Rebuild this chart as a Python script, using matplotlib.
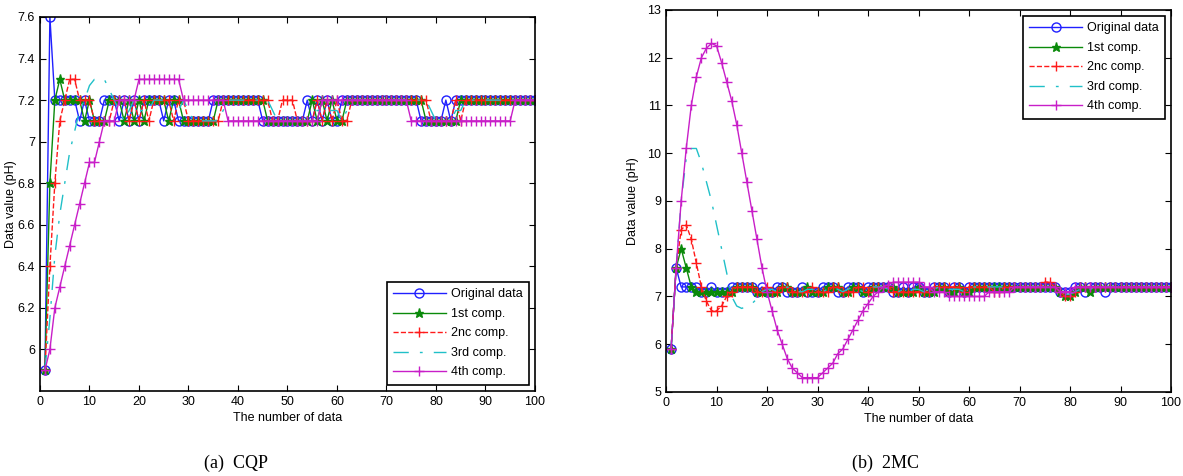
import matplotlib
matplotlib.use('Agg')
import matplotlib.pyplot as plt
import numpy as np

plt.rcParams['font.family'] = ['Liberation Sans', 'DejaVu Sans']

x = np.arange(1, 101)
labels = ['Original data', '1st comp.', '2nc comp.', '3rd comp.', '4th comp.']

# (a) CQP
orig_a = [5.9, 7.6, 7.2, 7.2, 7.2, 7.2, 7.2, 7.1, 7.2, 7.1,
          7.1, 7.1, 7.2, 7.2, 7.2, 7.1, 7.2, 7.1, 7.2, 7.1,
          7.2, 7.2, 7.2, 7.2, 7.1, 7.2, 7.2, 7.1, 7.1, 7.1,
          7.1, 7.1, 7.1, 7.1, 7.2, 7.2, 7.2, 7.2, 7.2, 7.2,
          7.2, 7.2, 7.2, 7.2, 7.1, 7.1, 7.1, 7.1, 7.1, 7.1,
          7.1, 7.1, 7.1, 7.2, 7.1, 7.2, 7.1, 7.2, 7.1, 7.1,
          7.2, 7.2, 7.2, 7.2, 7.2, 7.2, 7.2, 7.2, 7.2, 7.2,
          7.2, 7.2, 7.2, 7.2, 7.2, 7.2, 7.1, 7.1, 7.1, 7.1,
          7.1, 7.2, 7.1, 7.2, 7.2, 7.2, 7.2, 7.2, 7.2, 7.2,
          7.2, 7.2, 7.2, 7.2, 7.2, 7.2, 7.2, 7.2, 7.2, 7.2]
comp1_a = [5.9, 6.8, 7.2, 7.3, 7.2, 7.2, 7.2, 7.2, 7.1, 7.2,
           7.1, 7.1, 7.1, 7.2, 7.2, 7.2, 7.1, 7.2, 7.1, 7.2,
           7.1, 7.2, 7.2, 7.2, 7.2, 7.1, 7.2, 7.2, 7.1, 7.1,
           7.1, 7.1, 7.1, 7.1, 7.1, 7.2, 7.2, 7.2, 7.2, 7.2,
           7.2, 7.2, 7.2, 7.2, 7.2, 7.1, 7.1, 7.1, 7.1, 7.1,
           7.1, 7.1, 7.1, 7.1, 7.2, 7.1, 7.2, 7.1, 7.2, 7.1,
           7.1, 7.2, 7.2, 7.2, 7.2, 7.2, 7.2, 7.2, 7.2, 7.2,
           7.2, 7.2, 7.2, 7.2, 7.2, 7.2, 7.2, 7.1, 7.1, 7.1,
           7.1, 7.1, 7.1, 7.1, 7.2, 7.2, 7.2, 7.2, 7.2, 7.2,
           7.2, 7.2, 7.2, 7.2, 7.2, 7.2, 7.2, 7.2, 7.2, 7.2]
comp2_a = [5.9, 6.4, 6.8, 7.1, 7.2, 7.3, 7.3, 7.2, 7.2, 7.2,
           7.1, 7.1, 7.1, 7.1, 7.2, 7.2, 7.2, 7.1, 7.2, 7.1,
           7.2, 7.1, 7.2, 7.2, 7.2, 7.2, 7.1, 7.2, 7.2, 7.1,
           7.1, 7.1, 7.1, 7.1, 7.1, 7.1, 7.2, 7.2, 7.2, 7.2,
           7.2, 7.2, 7.2, 7.2, 7.2, 7.2, 7.1, 7.1, 7.2, 7.2,
           7.2, 7.1, 7.1, 7.1, 7.1, 7.2, 7.1, 7.2, 7.1, 7.2,
           7.1, 7.1, 7.2, 7.2, 7.2, 7.2, 7.2, 7.2, 7.2, 7.2,
           7.2, 7.2, 7.2, 7.2, 7.2, 7.2, 7.2, 7.2, 7.1, 7.1,
           7.1, 7.1, 7.1, 7.2, 7.1, 7.2, 7.2, 7.2, 7.2, 7.2,
           7.2, 7.2, 7.2, 7.2, 7.2, 7.2, 7.2, 7.2, 7.2, 7.2]
comp3_a = [5.9, 6.15, 6.45, 6.65, 6.8, 6.95, 7.05, 7.15, 7.2, 7.27,
           7.3, 7.3, 7.3, 7.25, 7.2, 7.15, 7.1, 7.15, 7.2, 7.15,
           7.15, 7.15, 7.2, 7.2, 7.2, 7.2, 7.15, 7.15, 7.2, 7.15,
           7.1, 7.1, 7.1, 7.1, 7.1, 7.1, 7.15, 7.2, 7.2, 7.2,
           7.2, 7.2, 7.2, 7.2, 7.2, 7.2, 7.15, 7.1, 7.1, 7.1,
           7.1, 7.1, 7.1, 7.1, 7.1, 7.15, 7.15, 7.15, 7.15, 7.15,
           7.1, 7.15, 7.2, 7.2, 7.2, 7.2, 7.2, 7.2, 7.2, 7.2,
           7.2, 7.2, 7.2, 7.2, 7.2, 7.2, 7.2, 7.2, 7.15, 7.1,
           7.1, 7.1, 7.1, 7.15, 7.15, 7.2, 7.2, 7.2, 7.2, 7.2,
           7.2, 7.2, 7.2, 7.2, 7.2, 7.2, 7.2, 7.2, 7.2, 7.2]
comp4_a = [5.9, 6.0, 6.2, 6.3, 6.4, 6.5, 6.6, 6.7, 6.8, 6.9,
           6.9, 7.0, 7.1, 7.1, 7.1, 7.2, 7.2, 7.2, 7.2, 7.3,
           7.3, 7.3, 7.3, 7.3, 7.3, 7.3, 7.3, 7.3, 7.2, 7.2,
           7.2, 7.2, 7.2, 7.2, 7.2, 7.2, 7.2, 7.1, 7.1, 7.1,
           7.1, 7.1, 7.1, 7.1, 7.1, 7.1, 7.1, 7.1, 7.1, 7.1,
           7.1, 7.1, 7.1, 7.1, 7.1, 7.1, 7.2, 7.2, 7.2, 7.2,
           7.2, 7.2, 7.2, 7.2, 7.2, 7.2, 7.2, 7.2, 7.2, 7.2,
           7.2, 7.2, 7.2, 7.2, 7.1, 7.1, 7.1, 7.1, 7.1, 7.1,
           7.1, 7.1, 7.1, 7.1, 7.1, 7.1, 7.1, 7.1, 7.1, 7.1,
           7.1, 7.1, 7.1, 7.1, 7.1, 7.2, 7.2, 7.2, 7.2, 7.2]

# (b) 2MC
orig_b = [5.9, 7.6, 7.2, 7.2, 7.2, 7.2, 7.1, 7.1, 7.2, 7.1,
          7.1, 7.1, 7.2, 7.2, 7.2, 7.2, 7.2, 7.1, 7.2, 7.1,
          7.1, 7.2, 7.2, 7.1, 7.1, 7.1, 7.2, 7.1, 7.1, 7.1,
          7.2, 7.2, 7.2, 7.1, 7.1, 7.2, 7.2, 7.2, 7.1, 7.2,
          7.2, 7.2, 7.2, 7.2, 7.1, 7.1, 7.2, 7.1, 7.2, 7.2,
          7.1, 7.1, 7.2, 7.2, 7.2, 7.1, 7.2, 7.2, 7.1, 7.2,
          7.2, 7.2, 7.2, 7.2, 7.2, 7.2, 7.2, 7.2, 7.2, 7.2,
          7.2, 7.2, 7.2, 7.2, 7.2, 7.2, 7.2, 7.1, 7.1, 7.1,
          7.2, 7.2, 7.1, 7.2, 7.2, 7.2, 7.1, 7.2, 7.2, 7.2,
          7.2, 7.2, 7.2, 7.2, 7.2, 7.2, 7.2, 7.2, 7.2, 7.2]
comp1_b = [5.9, 7.6, 8.0, 7.6, 7.2, 7.1, 7.1, 7.1, 7.1, 7.1,
           7.1, 7.1, 7.1, 7.2, 7.2, 7.2, 7.2, 7.1, 7.1, 7.1,
           7.1, 7.1, 7.2, 7.2, 7.1, 7.1, 7.1, 7.2, 7.1, 7.1,
           7.1, 7.2, 7.2, 7.2, 7.1, 7.1, 7.2, 7.2, 7.1, 7.1,
           7.2, 7.2, 7.2, 7.2, 7.2, 7.1, 7.1, 7.1, 7.1, 7.2,
           7.1, 7.1, 7.1, 7.2, 7.2, 7.1, 7.1, 7.2, 7.1, 7.1,
           7.2, 7.2, 7.2, 7.2, 7.2, 7.2, 7.2, 7.2, 7.2, 7.2,
           7.2, 7.2, 7.2, 7.2, 7.2, 7.2, 7.2, 7.1, 7.0, 7.0,
           7.1, 7.2, 7.2, 7.1, 7.2, 7.2, 7.2, 7.2, 7.2, 7.2,
           7.2, 7.2, 7.2, 7.2, 7.2, 7.2, 7.2, 7.2, 7.2, 7.2]
comp2_b = [5.9, 7.6, 8.4, 8.5, 8.2, 7.7, 7.2, 6.9, 6.7, 6.7,
           6.8, 7.0, 7.1, 7.2, 7.2, 7.2, 7.2, 7.1, 7.1, 7.2,
           7.1, 7.1, 7.2, 7.2, 7.1, 7.1, 7.1, 7.1, 7.2, 7.1,
           7.1, 7.1, 7.2, 7.2, 7.1, 7.1, 7.1, 7.2, 7.2, 7.1,
           7.2, 7.2, 7.2, 7.2, 7.1, 7.1, 7.1, 7.1, 7.1, 7.1,
           7.1, 7.1, 7.2, 7.2, 7.2, 7.2, 7.2, 7.2, 7.1, 7.2,
           7.2, 7.2, 7.2, 7.2, 7.1, 7.1, 7.2, 7.2, 7.2, 7.2,
           7.2, 7.2, 7.2, 7.2, 7.3, 7.3, 7.2, 7.1, 7.0, 7.0,
           7.1, 7.2, 7.2, 7.2, 7.2, 7.2, 7.2, 7.2, 7.2, 7.2,
           7.2, 7.2, 7.2, 7.2, 7.2, 7.2, 7.2, 7.2, 7.2, 7.2]
comp3_b = [5.9, 7.6, 9.0, 9.9, 10.1, 10.1, 9.8, 9.4, 9.0, 8.5,
           8.0, 7.5, 7.0, 6.8, 6.75, 6.8, 6.85, 6.95, 7.1, 7.15,
           7.15, 7.1, 7.15, 7.2, 7.15, 7.1, 7.1, 7.15, 7.15, 7.1,
           7.1, 7.15, 7.2, 7.15, 7.1, 7.15, 7.2, 7.15, 7.1, 7.15,
           7.2, 7.2, 7.2, 7.15, 7.1, 7.1, 7.15, 7.1, 7.15, 7.15,
           7.1, 7.1, 7.15, 7.2, 7.2, 7.15, 7.15, 7.15, 7.1, 7.15,
           7.2, 7.2, 7.2, 7.2, 7.2, 7.2, 7.2, 7.2, 7.2, 7.2,
           7.2, 7.2, 7.2, 7.2, 7.2, 7.2, 7.2, 7.15, 7.05, 7.05,
           7.1, 7.15, 7.2, 7.15, 7.2, 7.2, 7.2, 7.2, 7.2, 7.2,
           7.2, 7.2, 7.2, 7.2, 7.2, 7.2, 7.2, 7.2, 7.2, 7.2]
comp4_b = [5.9, 7.6, 9.0, 10.1, 11.0, 11.6, 12.0, 12.2, 12.3, 12.25,
           11.9, 11.5, 11.1, 10.6, 10.0, 9.4, 8.8, 8.2, 7.6, 7.1,
           6.7, 6.3, 6.0, 5.7, 5.5, 5.4, 5.3, 5.3, 5.3, 5.3,
           5.4, 5.5, 5.6, 5.8, 5.9, 6.1, 6.3, 6.5, 6.7, 6.85,
           7.0, 7.1, 7.2, 7.25, 7.3, 7.3, 7.3, 7.3, 7.3, 7.3,
           7.2, 7.2, 7.1, 7.1, 7.1, 7.0, 7.0, 7.0, 7.0, 7.0,
           7.0, 7.0, 7.0, 7.1, 7.1, 7.1, 7.1, 7.1, 7.2, 7.2,
           7.2, 7.2, 7.2, 7.2, 7.2, 7.2, 7.2, 7.1, 7.1, 7.1,
           7.2, 7.2, 7.2, 7.2, 7.2, 7.2, 7.2, 7.2, 7.2, 7.2,
           7.2, 7.2, 7.2, 7.2, 7.2, 7.2, 7.2, 7.2, 7.2, 7.2]

blue, green, red, cyan, magenta = '#2020ff', '#0a8a0a', '#ff1a1a', '#20c0c8', '#c81ec8'
cyan_dash = (0, (11, 8, 2, 8))


def draw(ax, series):
    o, c1, c2, c3, c4 = series
    ax.plot(x, o, '-o', color=blue, lw=1, ms=6.5, mfc='none', mew=1, label=labels[0])
    ax.plot(x, c1, '-*', color=green, lw=1, ms=6.5, label=labels[1])
    ax.plot(x, c2, '--+', color=red, lw=1, ms=7.5, mew=1, label=labels[2])
    ax.plot(x, c3, color=cyan, lw=1, linestyle=cyan_dash, label=labels[3])
    ax.plot(x, c4, '-+', color=magenta, lw=1, ms=7.5, mew=1, label=labels[4])
    ax.set_xlim(0, 100)
    ax.set_xticks(np.arange(0, 101, 10))
    ax.tick_params(direction='in', length=4, width=0.8, top=True, right=True, labelsize=9)
    for s in ax.spines.values():
        s.set_linewidth(1.2)
    ax.set_xlabel('The number of data', fontsize=9, labelpad=3)
    ax.set_ylabel('Data value (pH)', fontsize=9, labelpad=6)


def add_legend(ax, loc):
    leg = ax.legend(loc=loc, fontsize=9, fancybox=False, framealpha=1,
                    edgecolor='black', handlelength=4.2, handletextpad=0.4,
                    borderaxespad=0.5, labelspacing=0.6, borderpad=0.5)
    leg.get_frame().set_linewidth(1.2)


fig = plt.figure(figsize=(11.83, 4.76), dpi=100)

ax1 = fig.add_axes([0.0338, 0.1786, 0.4184, 0.7857])
draw(ax1, [orig_a, comp1_a, comp2_a, comp3_a, comp4_a])
ax1.set_ylim(5.8, 7.6)
ax1.set_yticks([6, 6.2, 6.4, 6.6, 6.8, 7, 7.2, 7.4, 7.6])
ax1.set_yticklabels(['6', '6.2', '6.4', '6.6', '6.8', '7', '7.2', '7.4', '7.6'])
# keep the label inside the figure (it sits right at the left edge)
ax1.yaxis.set_label_coords(-0.047, 0.5)
add_legend(ax1, 'lower right')

ax2 = fig.add_axes([0.563, 0.1765, 0.4269, 0.8025])
draw(ax2, [orig_b, comp1_b, comp2_b, comp3_b, comp4_b])
ax2.set_ylim(5, 13)
ax2.set_yticks(np.arange(5, 14, 1))
add_legend(ax2, 'upper right')

fig.text(236 / 1183, 1 - 463 / 476, '(a)  CQP', fontsize=13, family='Liberation Serif',
         ha='center', va='center')
fig.text(886 / 1183, 1 - 463 / 476, '(b)  2MC', fontsize=13, family='Liberation Serif',
         ha='center', va='center')

fig.savefig('out.png', dpi=100)
